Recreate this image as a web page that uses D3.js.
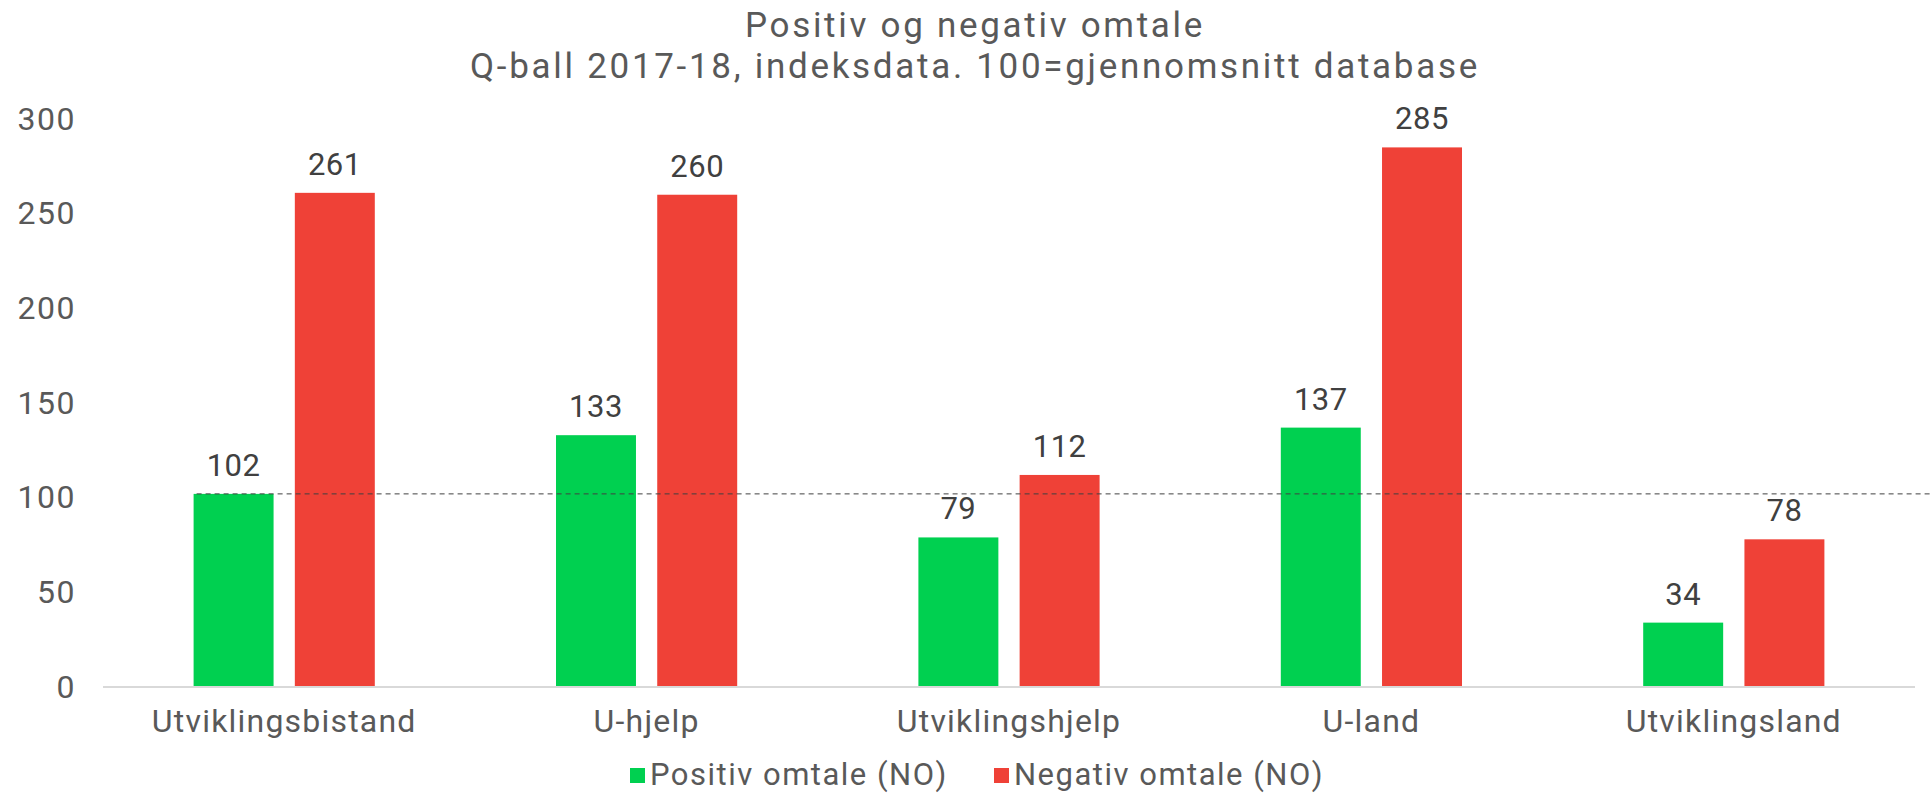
<!DOCTYPE html>
<html lang="no">
<head>
<meta charset="UTF-8">
<title>Positiv og negativ omtale</title>
<script src="https://d3js.org/d3.v7.min.js"></script>
<style>
    body { margin: 0; padding: 0; background: #fff; }
    svg text { font-family: Roboto, "Noto Sans", sans-serif; }
</style>
</head>
<body>
<div id="chart"></div>
<script>
    // data
    var categories = ['Utviklingsbistand', 'U-hjelp', 'Utviklingshjelp', 'U-land', 'Utviklingsland'];
    var positiv = [102, 133, 79, 137, 34];
    var negativ = [261, 260, 112, 285, 78];
    var seriesNames = ['Positiv omtale (NO)', 'Negativ omtale (NO)'];
    var yTicks = [0, 50, 100, 150, 200, 250, 300];
    var refValue = 102;

    var width = 1931, height = 793;
    var margin = { top: 119, right: 16, bottom: 106, left: 103 };

    var svg = d3.select('#chart').append('svg')
        .attr('width', width)
        .attr('height', height);

    var colors = d3.scaleOrdinal().domain(seriesNames).range(['#00d050', '#ef4137']);

    var x0 = d3.scaleBand()
        .domain(categories)
        .range([margin.left, width - margin.right])
        .padding(0);

    var bw = x0.bandwidth();
    var x1 = d3.scaleBand()
        .domain(seriesNames)
        .range([bw * 0.25, bw * 0.75])
        .paddingInner(0.21);

    var y = d3.scaleLinear()
        .domain([0, 300])
        .range([height - margin.bottom, margin.top]);

    // title
    var title = svg.append('g').attr('fill', '#595959').attr('text-anchor', 'middle')
        .attr('font-size', 35).attr('letter-spacing', 2.7);
    title.append('text').attr('x', 975).attr('y', 37).text('Positiv og negativ omtale');
    title.append('text').attr('x', 975).attr('y', 78).text('Q-ball 2017-18, indeksdata. 100=gjennomsnitt database');

    // y axis labels only
    var yAxis = svg.append('g')
        .attr('transform', 'translate(' + (margin.left - 12) + ',0)')
        .call(d3.axisLeft(y).tickValues(yTicks).tickSize(0).tickPadding(15));
    yAxis.select('.domain').remove();
    yAxis.selectAll('text')
        .attr('font-size', 32)
        .attr('letter-spacing', 1.5)
        .attr('fill', '#595959')
        .attr('font-family', 'Roboto, sans-serif');

    // bars
    var rows = categories.map(function(c, i) {
        return { cat: c, vals: [positiv[i], negativ[i]] };
    });

    var groups = svg.selectAll('g.grp')
        .data(rows)
        .enter().append('g')
        .attr('class', 'grp')
        .attr('transform', function(d) { return 'translate(' + x0(d.cat) + ',0)'; });

    groups.selectAll('rect')
        .data(function(d) { return d.vals.map(function(v, k) { return { s: seriesNames[k], v: v }; }); })
        .enter().append('rect')
        .attr('x', function(d) { return x1(d.s); })
        .attr('width', x1.bandwidth())
        .attr('y', function(d) { return y(d.v); })
        .attr('height', function(d) { return y(0) - y(d.v); })
        .attr('fill', function(d) { return colors(d.s); });

    groups.selectAll('text.lbl')
        .data(function(d) { return d.vals.map(function(v, k) { return { s: seriesNames[k], v: v }; }); })
        .enter().append('text')
        .attr('class', 'lbl')
        .attr('x', function(d) { return x1(d.s) + x1.bandwidth() / 2; })
        .attr('y', function(d) { return y(d.v) - 18; })
        .attr('text-anchor', 'middle')
        .attr('font-size', 31)
        .attr('letter-spacing', 0.5)
        .attr('fill', '#404040')
        .text(function(d) { return d.v; });

    // baseline
    svg.append('line')
        .attr('x1', margin.left).attr('x2', width - margin.right)
        .attr('y1', y(0)).attr('y2', y(0))
        .attr('stroke', '#d9d9d9').attr('stroke-width', 2);

    // category labels
    svg.selectAll('text.cat')
        .data(categories)
        .enter().append('text')
        .attr('class', 'cat')
        .attr('x', function(d) { return x0(d) + bw / 2; })
        .attr('y', y(0) + 45)
        .attr('text-anchor', 'middle')
        .attr('font-size', 32)
        .attr('letter-spacing', 1.2)
        .attr('fill', '#595959')
        .text(function(d) { return d; });

    // reference line
    svg.append('line')
        .attr('x1', x0(categories[0]) + x1(seriesNames[0]) + 3)
        .attr('x2', width)
        .attr('y1', y(refValue)).attr('y2', y(refValue))
        .attr('stroke', '#404040').attr('stroke-width', 1)
        .attr('stroke-dasharray', '5,4');

    // legend
    var legend = svg.append('g');
    var legX = [630, 994];
    seriesNames.forEach(function(s, i) {
        legend.append('rect')
            .attr('x', legX[i]).attr('y', 768)
            .attr('width', 15).attr('height', 15)
            .attr('fill', colors(s));
        legend.append('text')
            .attr('x', legX[i] + 20).attr('y', 785)
            .attr('font-size', 31)
            .attr('letter-spacing', 1.5)
            .attr('fill', '#595959')
            .text(s);
    });
</script>
</body>
</html>
